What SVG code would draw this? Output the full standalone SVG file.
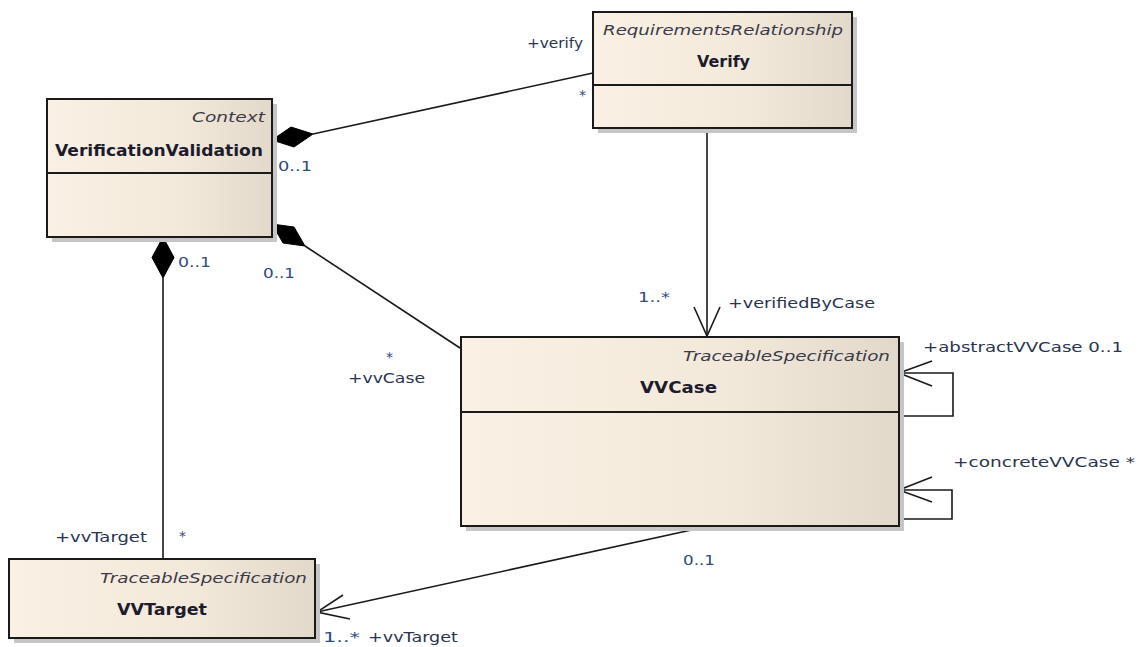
<svg xmlns="http://www.w3.org/2000/svg" width="1139" height="647" viewBox="0 0 1139 647">
<defs>
<linearGradient id="fillg" x1="0" y1="0" x2="1" y2="0">
<stop offset="0" stop-color="#faf0e3"/>
<stop offset="0.6" stop-color="#f3e9db"/>
<stop offset="1" stop-color="#e3d9ca"/>
</linearGradient>
<style>
.box{fill:url(#fillg);stroke:#1a1a1a;stroke-width:2}
.shadow{fill:#c6c6c6}
.div{stroke:#1a1a1a;stroke-width:2}
.ln{stroke:#1a1a1a;stroke-width:1.6;fill:none}
.dm{fill:#000;stroke:#000;stroke-width:1}
.st{font-family:"DejaVu Sans","Liberation Sans",sans-serif;font-style:italic;font-size:14px;fill:#3a3a4a}
.nm{font-family:"DejaVu Sans","Liberation Sans",sans-serif;font-weight:bold;font-size:15px;fill:#1c1c2c}
.lb{font-family:"DejaVu Sans","Liberation Sans",sans-serif;font-size:14px;fill:#2a3450}
.mu{font-family:"DejaVu Sans","Liberation Sans",sans-serif;font-size:14px;fill:#2f4a80}
</style>
</defs>
<rect width="1139" height="647" fill="#ffffff"/>

<g id="connectors">
<!-- Verify to VerificationValidation (composition) -->
<line class="ln" x1="313" y1="134" x2="593" y2="73"/>
<polygon class="dm" points="272,140 294,147 313,134 291,127"/>
<!-- VVCase to VerificationValidation (composition) -->
<line class="ln" x1="305" y1="246" x2="460" y2="348"/>
<polygon class="dm" points="272,224 283,243 305,246 294,227"/>
<!-- VVTarget to VerificationValidation (composition) -->
<line class="ln" x1="163" y1="278" x2="163" y2="558"/>
<polygon class="dm" points="163,237 174,257.5 163,278 152,257.5"/>
<!-- Verify to VVCase -->
<line class="ln" x1="707" y1="128" x2="707" y2="336"/>
<polyline class="ln" points="694,307 707,336 720,307"/>
<!-- VVCase to VVTarget -->
<line class="ln" x1="705" y1="527" x2="317" y2="612"/>
<polyline class="ln" points="343,595 317,612 350,619"/>
<!-- self loops -->
<polyline class="ln" points="899,373 953,373 953,416 899,416"/>
<polyline class="ln" points="932,361 899,373 932,386"/>
<polyline class="ln" points="899,490 952,490 952,519 899,519"/>
<polyline class="ln" points="932,477 899,490 932,502"/>
</g>

<g id="labels">
<text class="lb" x="527" y="48" textLength="56" lengthAdjust="spacingAndGlyphs">+verify</text>
<text class="mu" x="579" y="100">*</text>
<text class="mu" x="278" y="171" textLength="34" lengthAdjust="spacingAndGlyphs">0..1</text>
<text class="mu" x="178" y="267" textLength="33" lengthAdjust="spacingAndGlyphs">0..1</text>
<text class="mu" x="263" y="278" textLength="32" lengthAdjust="spacingAndGlyphs">0..1</text>
<text class="mu" x="386" y="362">*</text>
<text class="lb" x="348" y="383" textLength="77" lengthAdjust="spacingAndGlyphs">+vvCase</text>
<text class="mu" x="638" y="302" textLength="32" lengthAdjust="spacingAndGlyphs">1..*</text>
<text class="lb" x="728" y="308" textLength="147" lengthAdjust="spacingAndGlyphs">+verifiedByCase</text>
<text class="lb" x="923" y="352" textLength="200" lengthAdjust="spacingAndGlyphs">+abstractVVCase 0..1</text>
<text class="lb" x="953" y="467" textLength="182" lengthAdjust="spacingAndGlyphs">+concreteVVCase *</text>
<text class="mu" x="683" y="565" textLength="32" lengthAdjust="spacingAndGlyphs">0..1</text>
<text class="mu" x="323" y="642" textLength="37" lengthAdjust="spacingAndGlyphs">1..*</text>
<text class="lb" x="368" y="642" textLength="90" lengthAdjust="spacingAndGlyphs">+vvTarget</text>
<text class="lb" x="55" y="542" textLength="92" lengthAdjust="spacingAndGlyphs">+vvTarget</text>
<text class="mu" x="179" y="541">*</text>
</g>

<g id="VerificationValidation">
<rect class="shadow" x="52" y="104" width="225" height="138"/>
<rect class="box" x="47" y="99" width="225" height="138"/>
<line class="div" x1="47" y1="173" x2="272" y2="173"/>
<text class="st" x="265" y="122" text-anchor="end" textLength="73" lengthAdjust="spacingAndGlyphs">Context</text>
<text class="nm" x="55" y="156" textLength="208" lengthAdjust="spacingAndGlyphs">VerificationValidation</text>
</g>

<g id="Verify">
<rect class="shadow" x="598" y="17" width="259" height="116"/>
<rect class="box" x="593" y="12" width="259" height="116"/>
<line class="div" x1="593" y1="85" x2="852" y2="85"/>
<text class="st" x="603" y="35" textLength="240" lengthAdjust="spacingAndGlyphs">RequirementsRelationship</text>
<text class="nm" x="697" y="67" textLength="53" lengthAdjust="spacingAndGlyphs">Verify</text>
</g>

<g id="VVCase">
<rect class="shadow" x="466" y="342" width="438" height="189"/>
<rect class="box" x="461" y="337" width="438" height="189"/>
<line class="div" x1="461" y1="412" x2="899" y2="412"/>
<text class="st" x="683" y="361" textLength="207" lengthAdjust="spacingAndGlyphs">TraceableSpecification</text>
<text class="nm" x="640" y="393" textLength="77" lengthAdjust="spacingAndGlyphs">VVCase</text>
</g>

<g id="VVTarget">
<rect class="shadow" x="14" y="564" width="306" height="79"/>
<rect class="box" x="9" y="559" width="306" height="79"/>
<text class="st" x="100" y="583" textLength="207" lengthAdjust="spacingAndGlyphs">TraceableSpecification</text>
<text class="nm" x="117" y="615" textLength="90" lengthAdjust="spacingAndGlyphs">VVTarget</text>
</g>
</svg>
